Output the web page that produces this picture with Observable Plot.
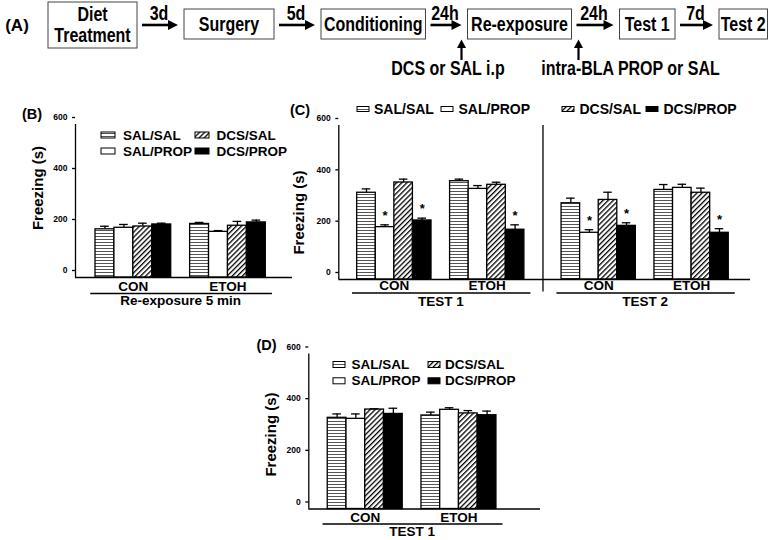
<!DOCTYPE html>
<html><head><meta charset="utf-8">
<script src="https://cdn.jsdelivr.net/npm/d3@7"></script>
<script src="https://cdn.jsdelivr.net/npm/@observablehq/plot@0.6"></script>
<style>
body{margin:0;background:#fff;}
#root{position:relative;width:771px;height:540px;overflow:hidden;background:#fff;}
</style></head><body><div id="root"></div>
<script>
// ---------- DATA ----------
const treatments = ["SAL/SAL", "SAL/PROP", "DCS/SAL", "DCS/PROP"];
const diets = ["CON", "ETOH"];
const yTicks = [0, 200, 400, 600];
const fills = ["url(#hl)", "#ffffff", "url(#dg)", "#000000"];

// Panel B: Re-exposure 5 min
const reexpConMean = [189, 195, 200, 208];
const reexpConSem = [12, 13, 13, 5];
const reexpEtohMean = [210, 179, 203, 216];
const reexpEtohSem = [6, 5, 17, 9];

// Panel C: Test 1
const t1ConMean = [338, 204, 378, 230];
const t1ConSem = [15, 9, 13, 9];
const t1ConSig = [false, true, false, true];
const t1EtohMean = [383, 353, 369, 194];
const t1EtohSem = [8, 13, 10, 19];
const t1EtohSig = [false, false, false, true];
// Panel C: Test 2
const t2ConMean = [297, 182, 310, 209];
const t2ConSem = [20, 12, 30, 12];
const t2ConSig = [false, true, false, true];
const t2EtohMean = [349, 357, 338, 182];
const t2EtohSem = [21, 14, 18, 16];
const t2EtohSig = [false, false, false, true];

// Panel D: Test 1
const dConMean = [353, 349, 385, 368];
const dConSem = [15, 19, 3, 22];
const dEtohMean = [362, 384, 370, 363];
const dEtohSem = [13, 8, 11, 16];

// Panel A: protocol
const steps = [["Diet", "Treatment"], ["Surgery"], ["Conditioning"], ["Re-exposure"], ["Test 1"], ["Test 2"]];
const intervals = ["3d", "5d", "24h", "24h", "7d"];
const injections = ["DCS or SAL i.p", "intra-BLA PROP or SAL"];

// ---------- LAYOUT ----------
const FONT = "'Liberation Sans', Arial, Helvetica, sans-serif";
const root = document.getElementById("root");

function panel(sections, o) {
  const rows = [], groups = [], secs = [], dividers = [];
  let cursor = 0;
  sections.forEach((s, si) => {
    if (si > 0) { dividers.push(cursor + 1); cursor += 2; }
    const sStart = cursor;
    s.groups.forEach((g, gi) => {
      if (gi > 0) cursor += 1;
      groups.push({diet: g.diet, start: cursor});
      treatments.forEach((t, ti) => rows.push({
        treatment: t, x1: cursor + ti, mean: g.mean[ti], sem: g.sem[ti],
        sig: g.sig ? g.sig[ti] : false
      }));
      cursor += 4;
    });
    secs.push({label: s.label, start: sStart, end: cursor});
  });
  const sw = 1.3;
  const svg = Plot.plot({
    width: o.width, height: o.height,
    marginLeft: o.ml, marginRight: o.mr, marginTop: o.mt, marginBottom: o.mb,
    x: {domain: o.xDomain, axis: null},
    y: {domain: [0, 600]},
    color: {domain: treatments, range: fills},
    style: {fontFamily: FONT, fontWeight: "bold", background: "none", overflow: "visible", color: "#000"},
    marks: [
      Plot.rectY(rows, {x1: "x1", x2: d => d.x1 + 1, y: "mean", fill: "treatment", stroke: "#000", strokeWidth: sw}),
      Plot.ruleX(rows, {x: d => d.x1 + 0.5, y1: "mean", y2: d => d.mean + d.sem, stroke: "#000", strokeWidth: sw}),
      Plot.ruleY(rows, {y: d => d.mean + d.sem, x1: d => d.x1 + 0.27, x2: d => d.x1 + 0.73, stroke: "#000", strokeWidth: sw}),
      Plot.text(rows.filter(d => d.sig), {x: d => d.x1 + 0.5, y: d => d.mean + d.sem, text: () => "*", dy: -9, fontSize: 13, fill: "#000"}),
      Plot.ruleY([0], {stroke: "#000", strokeWidth: sw}),
      Plot.ruleX([o.xDomain[0]], {y1: 0, y2: 600, stroke: "#000", strokeWidth: sw}),
      Plot.ruleX(dividers, {y1: -49, y2: 600, stroke: "#000", strokeWidth: sw}),
      Plot.axisY({ticks: yTicks, tickSize: 3, tickPadding: 5, dy: -7, fontSize: 8.5, fontWeight: "bold", label: null, strokeWidth: sw}),
      Plot.text(["Freezing (s)"], {text: d => d, frameAnchor: "left", textAnchor: "middle", lineAnchor: "middle", rotate: -90, dx: o.yl[0], dy: o.yl[1], fontSize: 15, fontWeight: "bold", fill: "#000"}),
      Plot.text(groups, {x: g => g.start + 2, text: "diet", frameAnchor: "bottom", lineAnchor: "middle", dy: o.gDy, fontSize: 13.5, fontWeight: "bold", fill: "#000"}),
      Plot.ruleY(secs, {y: () => 0, x1: s => s.start - 0.25, x2: s => s.end + 0.35, dy: o.uDy, stroke: "#000", strokeWidth: sw}),
      Plot.text(secs, {x: s => (s.start + s.end) / 2, text: "label", frameAnchor: "bottom", lineAnchor: "middle", dy: o.sDy, fontSize: 13.5, fontWeight: "bold", fill: "#000"})
    ]
  });
  svg.style.position = "absolute";
  svg.style.left = o.left + "px";
  svg.style.top = o.top + "px";
  root.appendChild(svg);
}

panel([{label: "Re-exposure 5 min", groups: [
  {diet: diets[0], mean: reexpConMean, sem: reexpConSem},
  {diet: diets[1], mean: reexpEtohMean, sem: reexpEtohSem}]}],
  {left: 0, top: 100, width: 295, height: 210, ml: 75, mr: 3, mt: 24, mb: 33,
   xDomain: [-1.057, 10.41], gDy: 9, uDy: 16, sDy: 23, yl: [-37, -13]});

panel([
  {label: "TEST 1", groups: [
    {diet: diets[0], mean: t1ConMean, sem: t1ConSem, sig: t1ConSig},
    {diet: diets[1], mean: t1EtohMean, sem: t1EtohSem, sig: t1EtohSig}]},
  {label: "TEST 2", groups: [
    {diet: diets[0], mean: t2ConMean, sem: t2ConSem, sig: t2ConSig},
    {diet: diets[1], mean: t2EtohMean, sem: t2EtohSem, sig: t2EtohSig}]}],
  {left: 285, top: 100, width: 480, height: 210, ml: 53.3, mr: 15, mt: 25, mb: 31,
   xDomain: [-0.99, 21.17], gDy: 6.5, uDy: 13.5, sDy: 22.5, yl: [-40, 10]});

panel([{label: "TEST 1", groups: [
  {diet: diets[0], mean: dConMean, sem: dConSem},
  {diet: diets[1], mean: dEtohMean, sem: dEtohSem}]}],
  {left: 240, top: 330, width: 310, height: 210, ml: 68.3, mr: 10, mt: 23.5, mb: 31.5,
   xDomain: [-1.01, 11.35], gDy: 9, uDy: 15, sDy: 23, yl: [-38, 3]});

// ---------- OVERLAY: patterns, diagram, legends, panel letters ----------
const ov = d3.create("svg").attr("width", 771).attr("height", 540)
  .style("position", "absolute").style("left", 0).style("top", 0)
  .style("font-family", FONT).style("font-weight", "bold");
const defs = ov.append("defs");
const hl = defs.append("pattern").attr("id", "hl").attr("patternUnits", "userSpaceOnUse").attr("width", 6).attr("height", 3);
hl.append("rect").attr("width", 6).attr("height", 3).attr("fill", "#fff");
hl.append("rect").attr("y", 1).attr("width", 6).attr("height", 1).attr("fill", "#555");
const dg = defs.append("pattern").attr("id", "dg").attr("patternUnits", "userSpaceOnUse")
  .attr("width", 3.6).attr("height", 3.6).attr("patternTransform", "rotate(45)");
dg.append("rect").attr("width", 3.6).attr("height", 3.6).attr("fill", "#fff");
dg.append("rect").attr("width", 1.3).attr("height", 3.6).attr("fill", "#000");

// Panel A diagram
const boxX = [[48, 137], [184, 274], [321, 425.5], [467.5, 571.5], [619.5, 675], [719, 767.5]];
const boxY = [[2, 48], [9, 39], [9, 39], [9, 39], [9, 39], [9, 39]];
const A = ov.append("g");
function stext(g, x, y, str, size) {
  g.append("text").attr("transform", `translate(${x},${y}) scale(1,1.22)`)
    .attr("text-anchor", "middle").attr("dominant-baseline", "central")
    .attr("font-size", size).text(str);
}
steps.forEach((lines, i) => {
  const [x0, x1] = boxX[i], [y0, y1] = boxY[i];
  A.append("rect").attr("x", x0).attr("y", y0).attr("width", x1 - x0).attr("height", y1 - y0)
    .attr("fill", "#fff").attr("stroke", "#444").attr("stroke-width", 1);
  const cx = (x0 + x1) / 2, cy = (y0 + y1) / 2;
  lines.forEach((l, li) => stext(A, cx, cy + (li - (lines.length - 1) / 2) * 21, l, 16));
});
intervals.forEach((lab, i) => {
  const xa = boxX[i][1] + 5, xb = boxX[i + 1][0] - 6, y = 25;
  A.append("line").attr("x1", xa).attr("x2", xb - 7).attr("y1", y).attr("y2", y).attr("stroke", "#000").attr("stroke-width", 2.6);
  A.append("path").attr("d", `M${xb},${y}L${xb - 10},${y - 5}L${xb - 10},${y + 5}Z`).attr("fill", "#000");
  stext(A, (xa + xb) / 2 - 1, 13, lab, 16);
});
const injX = [461.5, 578.5], injLabX = [448, 630.5];
injections.forEach((lab, i) => {
  const x = injX[i];
  A.append("line").attr("x1", x).attr("x2", x).attr("y1", 60).attr("y2", 46).attr("stroke", "#000").attr("stroke-width", 2.2);
  A.append("path").attr("d", `M${x},39.5L${x - 4.5},48L${x + 4.5},48Z`).attr("fill", "#000");
  stext(A, injLabX[i], 68, lab, 16);
});

// panel letters
const letters = [["(A)", 17, 25, 17], ["(B)", 32, 114, 14.5], ["(C)", 300, 110, 14.5], ["(D)", 266.5, 345, 14.5]];
letters.forEach(([t, x, y, s]) => ov.append("text").attr("x", x).attr("y", y).attr("text-anchor", "middle")
  .attr("dominant-baseline", "central").attr("font-size", s).text(t));

// legends
function legend(items, sw, sh, size) {
  items.forEach(([ti, sx, tx, y]) => {
    ov.append("rect").attr("x", sx).attr("y", y - sh / 2).attr("width", sw).attr("height", sh)
      .attr("fill", fills[ti]).attr("stroke", "#000").attr("stroke-width", 1);
    ov.append("text").attr("x", tx).attr("y", y).attr("dominant-baseline", "central")
      .attr("font-size", size).text(treatments[ti]);
  });
}
legend([[0, 101, 123, 135], [2, 195, 216.5, 135], [1, 101, 123, 151], [3, 195, 216.5, 151]], 14, 6, 13.5);
legend([[0, 357, 374, 109], [1, 441, 458.5, 109], [2, 562, 579.5, 109], [3, 646, 663.5, 109]], 12, 5, 14);
legend([[0, 333, 351.5, 364.5], [2, 428, 445, 364.5], [1, 333, 351.5, 380.8], [3, 428, 445, 380.8]], 12, 6, 13.5);

root.appendChild(ov.node());
</script></body></html>
